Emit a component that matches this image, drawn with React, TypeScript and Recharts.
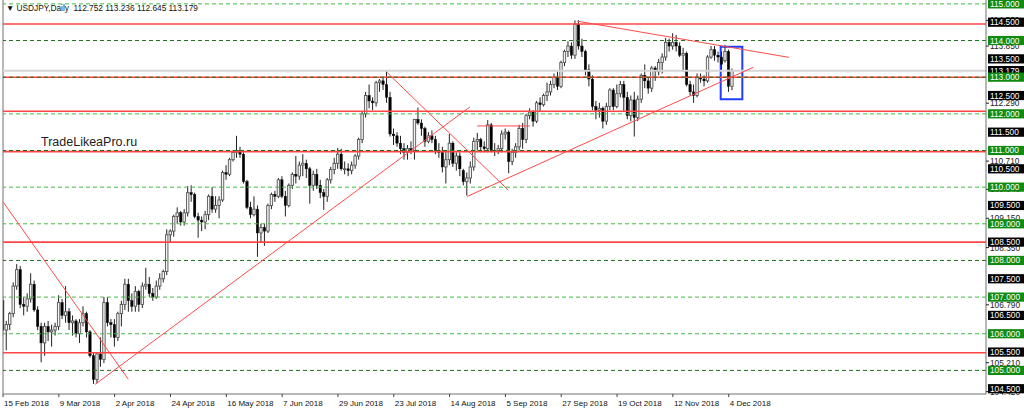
import { Bar, ComposedChart, ReferenceArea, ReferenceLine, XAxis, YAxis } from "recharts";

const W = 1024;
const H = 413;
const AXIS_W = 38;
const XAXIS_H = 19;
const FONT = "'Liberation Sans', Arial, sans-serif";

// daily USDJPY candles [open, high, low, close], one array per month
const feb = [
  [106.9, 107.0, 105.95, 106.1], [106.1, 106.35, 105.55, 106.25], [106.25, 106.6, 106.1, 106.55],
  [106.55, 107.4, 106.45, 107.3], [107.3, 107.9, 107.2, 107.75], [107.75, 107.85, 106.7, 106.8],
  [106.8, 107.0, 106.5, 106.75], [106.75, 107.1, 106.6, 106.95], [106.95, 107.65, 106.85, 107.35],
  [107.35, 107.45, 106.6, 106.65],
];
const mar = [
  [106.65, 106.75, 106.1, 106.2], [106.2, 106.3, 105.22, 105.75], [105.75, 106.3, 105.4, 106.2],
  [106.2, 106.35, 105.8, 106.05], [106.05, 106.25, 105.65, 106.1], [106.1, 106.3, 105.95, 106.2],
  [106.2, 107.05, 106.1, 106.85], [106.85, 106.95, 106.4, 106.5], [106.5, 107.3, 106.3, 106.6],
  [106.6, 106.7, 106.1, 106.3], [106.3, 106.5, 105.95, 106.35], [106.35, 106.4, 105.9, 106.0],
  [106.0, 106.4, 105.75, 106.3], [106.3, 106.75, 106.2, 106.55], [106.55, 106.6, 105.9, 106.05],
  [106.05, 106.1, 105.35, 105.4], [105.4, 105.5, 104.63, 104.75], [104.75, 105.5, 104.65, 105.45],
  [105.45, 105.9, 105.1, 105.3], [105.3, 107.0, 105.2, 106.85], [106.85, 107.0, 106.2, 106.3],
  [106.3, 106.4, 105.9, 106.25],
];
const apr = [
  [106.25, 106.4, 105.65, 105.9], [105.9, 106.6, 105.8, 106.55], [106.55, 106.9, 106.2, 106.8],
  [106.8, 107.5, 106.65, 107.35], [107.35, 107.5, 106.6, 106.9], [106.9, 107.1, 106.6, 106.75],
  [106.75, 107.3, 106.6, 107.15], [107.15, 107.2, 106.6, 106.8], [106.8, 107.4, 106.7, 107.3],
  [107.3, 107.8, 107.2, 107.35], [107.35, 107.55, 107.0, 107.1], [107.1, 107.25, 106.9, 107.0],
  [107.0, 107.45, 106.95, 107.3], [107.3, 107.65, 107.2, 107.5], [107.5, 107.75, 107.4, 107.7],
  [107.7, 108.85, 107.6, 108.7], [108.7, 108.85, 108.5, 108.8], [108.8, 109.25, 108.65, 109.2],
  [109.2, 109.45, 109.0, 109.3], [109.3, 109.35, 108.95, 109.05], [109.05, 109.4, 108.95, 109.3],
];
const may = [
  [109.3, 110.03, 109.2, 109.85], [109.85, 110.05, 109.6, 109.8], [109.8, 109.85, 109.15, 109.2],
  [109.2, 109.3, 108.62, 109.1], [109.1, 109.2, 108.8, 109.05], [109.05, 109.35, 108.85, 109.25],
  [109.25, 109.8, 109.1, 109.75], [109.75, 110.0, 109.3, 109.4], [109.4, 109.75, 109.3, 109.5],
  [109.5, 109.75, 109.15, 109.65], [109.65, 110.45, 109.6, 110.4], [110.4, 110.6, 110.2, 110.35],
  [110.35, 110.8, 110.3, 110.75], [110.75, 111.0, 110.7, 110.95], [110.95, 111.4, 110.8, 111.0],
  [111.0, 111.1, 110.8, 110.9], [110.9, 110.95, 110.1, 110.15], [110.15, 110.2, 109.4, 109.45],
  [109.45, 109.6, 109.15, 109.25], [109.25, 109.75, 109.2, 109.4], [109.4, 109.5, 108.1, 108.75],
  [108.75, 109.0, 108.5, 108.9], [108.9, 109.0, 108.4, 108.8],
];
const jun = [
  [108.8, 109.55, 108.75, 109.5], [109.5, 109.85, 109.4, 109.8], [109.8, 109.9, 109.6, 109.75],
  [109.75, 110.25, 109.7, 110.2], [110.2, 110.3, 109.7, 109.75], [109.75, 109.9, 109.2, 109.5],
  [109.5, 110.1, 109.45, 110.05], [110.05, 110.4, 109.95, 110.35], [110.35, 110.85, 110.1, 110.3],
  [110.3, 110.7, 110.2, 110.6], [110.6, 110.9, 110.3, 110.65], [110.65, 110.75, 110.25, 110.5],
  [110.5, 110.55, 109.55, 110.05], [110.05, 110.45, 109.9, 110.35], [110.35, 110.5, 109.95, 110.05],
  [110.05, 110.2, 109.7, 109.85], [109.85, 109.95, 109.38, 109.75], [109.75, 110.25, 109.6, 110.2],
  [110.2, 110.55, 110.1, 110.48], [110.48, 110.8, 110.35, 110.65], [110.65, 111.07, 110.5, 110.9],
];
const jul = [
  [110.9, 111.05, 110.45, 110.5], [110.5, 110.7, 110.35, 110.5], [110.5, 110.65, 110.3, 110.45],
  [110.45, 110.7, 110.35, 110.6], [110.6, 110.9, 110.5, 110.85], [110.85, 111.35, 110.75, 111.3],
  [111.3, 112.05, 111.2, 112.0], [112.0, 112.6, 111.9, 112.5], [112.5, 112.8, 112.15, 112.35],
  [112.35, 112.45, 112.1, 112.3], [112.3, 112.9, 112.2, 112.85], [112.85, 112.95, 112.6, 112.9],
  [112.9, 113.0, 112.65, 112.8], [112.8, 113.17, 112.3, 112.45], [112.45, 112.6, 111.38, 111.45],
  [111.45, 111.6, 111.15, 111.4], [111.4, 111.5, 111.1, 111.2], [111.2, 111.4, 110.9, 111.05],
  [111.05, 111.2, 110.75, 110.95], [110.95, 111.15, 110.75, 111.05], [111.05, 111.25, 110.9, 111.0],
  [111.0, 111.85, 110.75, 111.85],
];
const aug = [
  [111.85, 112.17, 111.7, 111.75], [111.75, 111.85, 111.4, 111.6], [111.6, 111.65, 111.1, 111.25],
  [111.25, 111.5, 111.2, 111.4], [111.4, 111.55, 111.2, 111.3], [111.3, 111.4, 110.9, 111.0],
  [111.0, 111.2, 110.8, 110.95], [110.95, 111.1, 110.4, 110.55], [110.55, 111.0, 110.1, 110.75],
  [110.75, 111.45, 110.6, 111.2], [111.2, 111.25, 110.55, 110.65], [110.65, 110.95, 110.45, 110.85],
  [110.85, 110.95, 110.3, 110.5], [110.45, 110.5, 110.05, 110.15], [110.15, 110.4, 109.77, 110.25],
  [110.25, 110.7, 110.1, 110.55], [110.55, 111.35, 110.45, 111.25], [111.25, 111.48, 111.0, 111.3],
  [111.3, 111.35, 110.95, 111.1], [111.1, 111.25, 110.95, 111.05], [111.05, 111.83, 110.95, 111.7],
  [111.7, 111.75, 110.95, 111.0], [111.0, 111.2, 110.85, 111.0],
];
const sep = [
  [111.0, 111.15, 110.9, 111.05], [111.05, 111.55, 110.95, 111.45], [111.45, 111.6, 111.3, 111.5],
  [111.5, 111.55, 110.38, 110.7], [110.7, 111.05, 110.6, 110.95], [110.95, 111.2, 110.8, 111.1],
  [111.1, 111.7, 111.0, 111.6], [111.6, 111.75, 111.05, 111.3], [111.3, 112.0, 111.2, 111.95],
  [111.95, 112.15, 111.85, 112.05], [112.05, 112.1, 111.65, 111.8], [111.8, 112.35, 111.75, 112.3],
  [112.3, 112.45, 112.05, 112.25], [112.25, 112.55, 112.2, 112.5], [112.5, 112.85, 112.35, 112.6],
  [112.6, 112.9, 112.5, 112.8], [112.8, 113.1, 112.7, 113.0], [113.0, 113.15, 112.65, 112.75],
  [112.75, 113.45, 112.7, 113.4], [113.4, 113.75, 113.3, 113.7],
];
const oct = [
  [113.7, 113.98, 113.55, 113.85], [113.85, 113.95, 113.5, 113.6], [113.6, 114.55, 113.5, 114.45],
  [114.45, 114.55, 113.75, 113.85], [113.85, 114.05, 113.55, 113.7], [113.7, 113.75, 113.05, 113.2],
  [113.2, 113.35, 112.75, 112.95], [112.95, 113.05, 112.1, 112.2], [112.2, 112.35, 111.85, 112.1],
  [112.1, 112.3, 111.9, 112.15], [112.15, 112.2, 111.6, 111.8], [111.8, 112.3, 111.7, 112.2],
  [112.2, 112.7, 112.1, 112.65], [112.65, 112.7, 112.1, 112.2], [112.2, 112.8, 112.15, 112.55],
  [112.55, 112.9, 112.45, 112.8], [112.8, 112.9, 112.05, 112.45], [112.45, 112.6, 111.85, 111.95],
  [111.95, 112.5, 111.8, 112.38], [112.38, 112.6, 111.38, 111.9], [111.9, 112.5, 111.8, 112.4],
  [112.4, 113.1, 112.3, 113.05], [113.05, 113.35, 112.7, 112.9],
];
const nov = [
  [112.9, 113.0, 112.55, 112.7], [112.7, 113.3, 112.6, 113.25], [113.25, 113.3, 112.9, 113.15],
  [113.15, 113.5, 113.05, 113.4], [113.4, 113.65, 113.1, 113.55], [113.55, 114.07, 113.45, 113.95],
  [113.95, 114.05, 113.7, 113.85], [113.85, 114.2, 113.75, 113.95], [113.95, 114.15, 113.7, 113.85],
  [113.85, 113.95, 113.55, 113.6], [113.6, 113.8, 113.15, 113.65], [113.65, 113.7, 112.75, 112.8],
  [112.8, 112.9, 112.5, 112.6], [112.6, 112.8, 112.3, 112.5], [112.5, 113.1, 112.45, 113.0],
  [113.0, 113.1, 112.85, 112.95], [112.95, 113.05, 112.75, 112.9], [112.9, 113.6, 112.85, 113.55],
  [113.55, 113.85, 113.5, 113.75], [113.75, 113.85, 113.45, 113.6], [113.6, 113.7, 113.4, 113.55],
  [113.55, 113.7, 113.2, 113.35],
];
const dec = [
  [113.45, 113.88, 113.4, 113.7], [113.7, 113.75, 112.6, 112.75], [112.752, 113.236, 112.645, 113.179],
];

const dateTickIdx = [0, 16, 32, 48, 64, 80, 96, 112, 128, 144, 160, 176, 192, 208];
const dateLabels = [
  "15 Feb 2018", "9 Mar 2018", "2 Apr 2018", "24 Apr 2018", "16 May 2018", "7 Jun 2018", "29 Jun 2018",
  "23 Jul 2018", "14 Aug 2018", "5 Sep 2018", "27 Sep 2018", "19 Oct 2018", "12 Nov 2018", "4 Dec 2018",
];

const priceLabels = [115, 114.5, 114, 113.5, 113, 112.5, 112, 111.5, 111, 110.5, 110, 109.5, 109, 108.5, 108, 107.5, 107, 106.5, 106, 105.5, 105, 104.5];
const scaleMarks = [114.55, 113.85, 112.29, 110.71, 109.94, 109.15, 108.35, 106.79, 105.21, 104.42];
const bidPrice = 113.179;

const redLevels = [114.45, 113.0, 112.07, 110.97, 108.5, 105.48];
const darkGreenLevels = [114, 113, 111, 108, 105];
const lightGreenLevels = [115, 112, 110, 109, 107, 106];

// trend lines: [barIndex1, price1, barIndex2, price2]
const trendLines = [
  [0, 109.6, 35.9, 104.76],
  [26.4, 104.62, 133.85, 112.19],
  [110.15, 113.12, 144.8, 109.92],
  [133.0, 109.745, 215.05, 113.27],
  [164.5, 114.53, 225.3, 113.54],
  [135.9, 111.67, 151.0, 111.67],
];
const boxBars = [205.7, 211.9];
const boxPrices = [112.4, 113.83];

const rows = [...feb, ...mar, ...apr, ...may, ...jun, ...jul, ...aug, ...sep, ...oct, ...nov, ...dec].map(
  ([o, h, l, c], i) => ({ i, o, h, l, c, range: [l, h] })
);

function Candle(props: any) {
  const { x, y, width, height, payload } = props;
  if (!payload) return null;
  const { o, h, l, c } = payload;
  const top = Math.min(y, y + height);
  const span = Math.abs(height);
  const py = (p: number) => (h === l ? top : top + ((h - p) / (h - l)) * span);
  const cx = x + width / 2;
  const up = c >= o;
  const bTop = py(Math.max(o, c));
  const bBot = py(Math.min(o, c));
  const bw = 2.4;
  return (
    <g>
      <line x1={cx} x2={cx} y1={top} y2={top + span} stroke="#222" strokeWidth={1} />
      <rect
        x={cx - bw / 2}
        y={bTop}
        width={bw}
        height={Math.max(bBot - bTop, 0.8)}
        fill={up ? "#f4f4f4" : "#000000"}
        stroke={up ? "#555" : "#000"}
        strokeWidth={up ? 0.9 : 0.4}
      />
    </g>
  );
}

const renderPriceTick = (p: any) => {
  const v = p.payload.value as number;
  const y = p.y as number;
  const ax = W - AXIS_W;
  if (scaleMarks.includes(v)) {
    return (
      <g>
        <line x1={ax} x2={ax + 3} y1={y} y2={y} stroke="#222" />
        <text x={ax + 4} y={y + 3} fontSize={8.3} fill="#222" fontFamily={FONT}>
          {v.toFixed(3)}
        </text>
      </g>
    );
  }
  const fill = Number.isInteger(v) ? "#128a12" : "#000000";
  return (
    <g>
      <rect x={ax + 2} y={y - 4.6} width={AXIS_W - 2} height={9.2} fill={fill} />
      <text x={ax + 4} y={y + 3} fontSize={8.3} fill="#ffffff" fontFamily={FONT}>
        {v.toFixed(3)}
      </text>
    </g>
  );
};

const renderDateTick = (p: any) => {
  const idx = dateTickIdx.indexOf(p.payload.value);
  return (
    <text x={p.x + 1} y={H - 7} fontSize={8} fill="#111" textAnchor="start" fontFamily={FONT}>
      {dateLabels[idx]}
    </text>
  );
};

export default function App() {
  return (
    <div style={{ position: "fixed", left: 0, top: 0, width: W, height: H, background: "#fff" }}>
      <ComposedChart
        width={W}
        height={H}
        data={rows}
        margin={{ top: 0, right: 0, left: 3, bottom: 0 }}
        style={{ fontFamily: FONT }}
      >
        <XAxis
          type="number"
          dataKey="i"
          domain={[0, 281.74]}
          allowDataOverflow
          ticks={dateTickIdx}
          interval={0}
          height={XAXIS_H}
          tickSize={3}
          axisLine={{ stroke: "#707070" }}
          tickLine={{ stroke: "#404040" }}
          tick={renderDateTick}
        />
        <YAxis
          orientation="right"
          type="number"
          domain={[104.356, 115.106]}
          allowDataOverflow
          ticks={[...scaleMarks, bidPrice, ...priceLabels]}
          interval={0}
          width={AXIS_W}
          axisLine={{ stroke: "#707070" }}
          tickLine={false}
          tick={renderPriceTick}
        />
        <ReferenceLine x={0} stroke="#707070" />
        <ReferenceLine y={bidPrice} stroke="#d4d4d4" strokeWidth={2} />
        <Bar dataKey="range" shape={<Candle />} barSize={3} isAnimationActive={false} />
        {lightGreenLevels.map((v) => (
          <ReferenceLine key={`lg${v}`} y={v} stroke="#44bb44" strokeDasharray="4 3" />
        ))}
        {redLevels.map((v) => (
          <ReferenceLine key={`r${v}`} y={v} stroke="#ff4444" strokeWidth={1.6} />
        ))}
        {darkGreenLevels.map((v) => (
          <ReferenceLine key={`dg${v}`} y={v} stroke="#1c6e1c" strokeDasharray="4 3" />
        ))}
        {trendLines.map(([x1, y1, x2, y2], k) => (
          <ReferenceLine
            key={`t${k}`}
            segment={[
              { x: x1, y: y1 },
              { x: x2, y: y2 },
            ]}
            stroke="#ff4a4a"
            strokeWidth={1}
          />
        ))}
        <ReferenceArea
          x1={boxBars[0]}
          x2={boxBars[1]}
          y1={boxPrices[0]}
          y2={boxPrices[1]}
          fill="none"
          stroke="#1f3cff"
          strokeWidth={2}
        />
      </ComposedChart>
      <div
        style={{
          position: "absolute",
          left: 6,
          top: 3,
          fontFamily: FONT,
          fontSize: 8.3,
          color: "#111",
          whiteSpace: "pre",
        }}
      >
        {"▼ USDJPY,Daily  112.752 113.236 112.645 113.179"}
      </div>
      <div
        style={{
          position: "absolute",
          left: 41,
          top: 135,
          fontFamily: FONT,
          fontSize: 12.5,
          color: "#222",
          whiteSpace: "pre",
        }}
      >
        TradeLikeaPro.ru
      </div>
    </div>
  );
}
